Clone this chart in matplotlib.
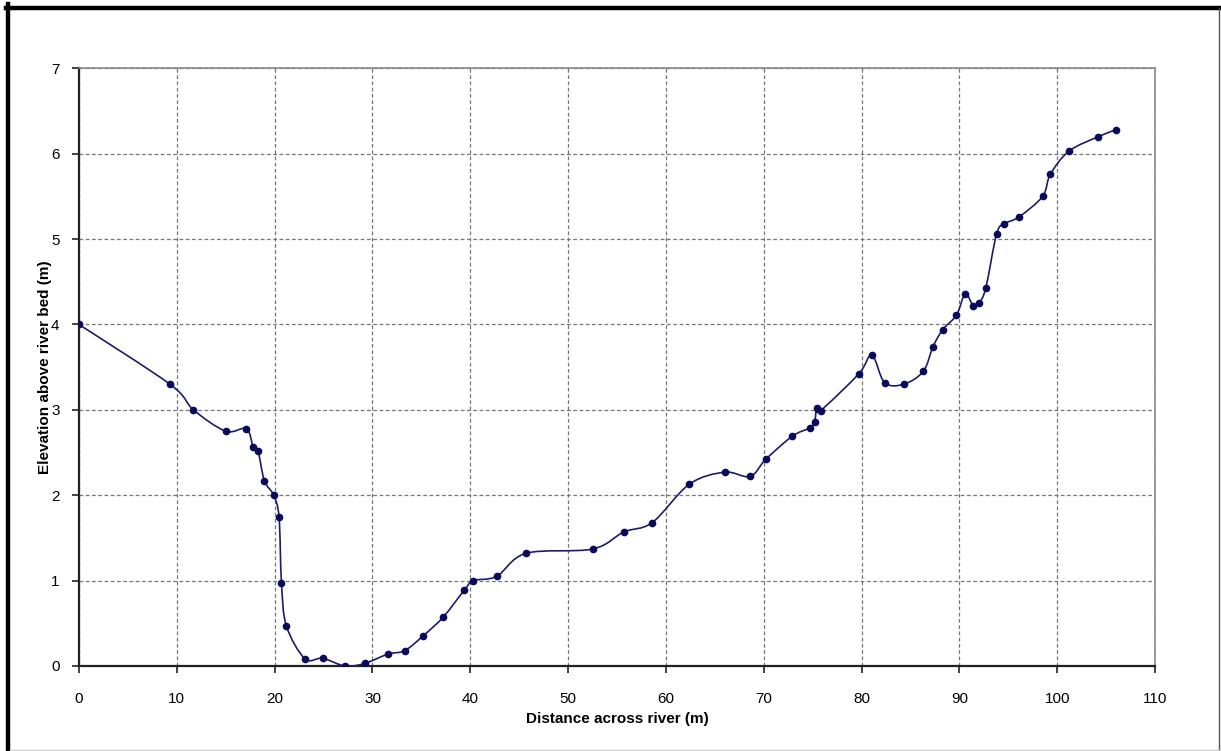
import matplotlib.pyplot as plt
import numpy as np
from matplotlib.path import Path
from matplotlib.patches import PathPatch
from matplotlib.lines import Line2D

# cross-section survey: distance across river (m) and elevation above bed (m)
distance = [0.0, 9.3, 11.7, 15.0, 17.1, 17.8, 18.3, 18.95, 19.9, 20.45,
            20.7, 21.2, 23.1, 24.9, 27.2, 29.2, 31.6, 33.3, 35.2, 37.25,
            39.4, 40.3, 42.7, 45.7, 52.5, 55.7, 58.6, 62.4, 66.0, 68.6,
            70.2, 72.9, 74.7, 75.2, 75.4, 75.8, 79.7, 81.05, 82.35, 84.3,
            86.3, 87.3, 88.3, 89.7, 90.6, 91.4, 92.0, 92.7, 93.8, 94.6,
            96.1, 98.5, 99.3, 101.2, 104.2, 106.0]
elevation = [4.00, 3.30, 3.00, 2.75, 2.78, 2.57, 2.52, 2.17, 2.00, 1.74,
             0.97, 0.47, 0.085, 0.09, 0.00, 0.03, 0.14, 0.18, 0.355, 0.575,
             0.89, 1.00, 1.05, 1.32, 1.37, 1.57, 1.68, 2.13, 2.27, 2.22,
             2.42, 2.69, 2.79, 2.86, 3.02, 2.99, 3.42, 3.64, 3.32, 3.30,
             3.45, 3.74, 3.94, 4.11, 4.36, 4.22, 4.25, 4.43, 5.06, 5.18,
             5.26, 5.50, 5.76, 6.03, 6.20, 6.28]

x_ticks = list(range(0, 111, 10))
y_ticks = list(range(0, 8))

LINE = '#1c1c6b'
MARK = '#0a0a5a'
FONT = ['Liberation Sans Narrow', 'Liberation Sans', 'DejaVu Sans']


def smooth_path(xs, ys):
    # bezier segments through every survey point (spreadsheet-style smoothed line)
    p = np.column_stack([xs, ys])
    n = len(p)
    verts = [p[0]]
    codes = [Path.MOVETO]
    for i in range(n - 1):
        p0 = p[i - 1] if i > 0 else p[i]
        p3 = p[i + 2] if i + 2 < n else p[i + 1]
        c1 = p[i] + (p[i + 1] - p0) / 6.0
        c2 = p[i + 1] - (p3 - p[i]) / 6.0
        verts += [c1, c2, p[i + 1]]
        codes += [Path.CURVE4] * 3
    return Path(verts, codes)


plt.rcParams['font.family'] = FONT
fig = plt.figure(figsize=(12.21, 7.51), dpi=100)
ax = fig.add_axes([0.0647, 0.1132, 0.8813, 0.7958])

ax.add_patch(PathPatch(smooth_path(distance, elevation), facecolor='none',
                       edgecolor=LINE, lw=1.2, zorder=3))
ax.plot(distance, elevation, linestyle='none', marker='o', ms=4.5,
        color=MARK, zorder=4)

ax.set_xlim(0, 110)
ax.set_ylim(0, 7)
ax.set_xticks(x_ticks)
ax.set_yticks(y_ticks)
ax.grid(True, color='#777777', linestyle=(0, (3, 2)), lw=0.9)
ax.set_axisbelow(True)

for side in ('top', 'right'):
    ax.spines[side].set_color('#888888')
    ax.spines[side].set_linewidth(1.2)
for side in ('left', 'bottom'):
    ax.spines[side].set_color('#222222')
    ax.spines[side].set_linewidth(1.6)

ax.tick_params(direction='out', length=5, width=1.2, color='#222222',
               labelsize=11)
ax.tick_params(axis='x', pad=14)
ax.tick_params(axis='y', pad=9)
ax.set_xlabel('Distance across river (m)', fontsize=11, fontweight='bold',
              labelpad=4)
ax.set_ylabel('Elevation above river bed (m)', fontsize=11, fontweight='bold',
              labelpad=-1)

# outer frame of the chart area
fig.add_artist(Line2D([0.0066, 0.0066], [0.0, 0.9947], transform=fig.transFigure,
                      color='black', lw=3.2))
fig.add_artist(Line2D([0.005, 0.999], [0.9900, 0.9900], transform=fig.transFigure,
                      color='black', lw=3.2))
fig.add_artist(Line2D([0.9985, 0.9985], [0.0, 0.99], transform=fig.transFigure,
                      color='#555555', lw=1.0))
fig.add_artist(Line2D([0.008, 1.0], [0.0015, 0.0015], transform=fig.transFigure,
                      color='#cccccc', lw=1.0))

fig.savefig('out.png', dpi=100)
